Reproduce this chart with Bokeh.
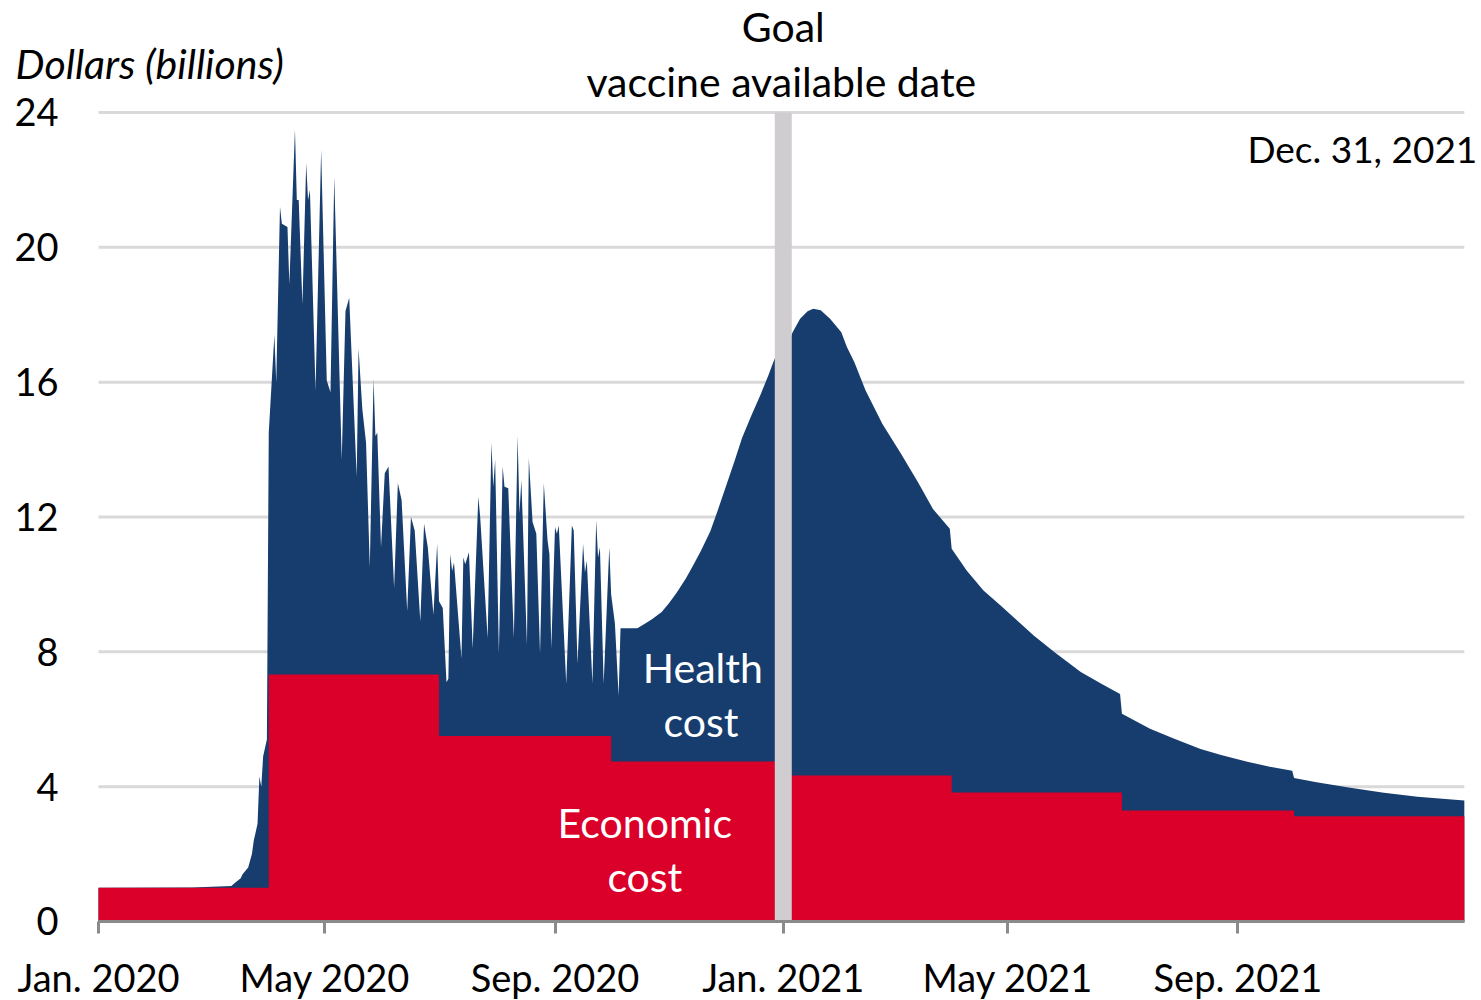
import numpy as np
import pandas as pd
from bokeh.plotting import figure
from bokeh.models import Range1d, FixedTicker, Label
from bokeh.core.properties import value
from bokeh.embed import file_html
from bokeh.resources import INLINE

# ---------------- data ----------------
# Total daily cost (economic + health), billions of dollars
dates = [
    "2020-01-01", "2020-02-20", "2020-03-12", "2020-03-14", "2020-03-17", "2020-03-18",
    "2020-03-21", "2020-03-23", "2020-03-24",
    "2020-03-26", "2020-03-27", "2020-03-28", "2020-03-29", "2020-03-31", "2020-04-01",
    "2020-04-04", "2020-04-05", "2020-04-07", "2020-04-08", "2020-04-11", "2020-04-12",
    "2020-04-15", "2020-04-16", "2020-04-17", "2020-04-19", "2020-04-21", "2020-04-22",
    "2020-04-23", "2020-04-26", "2020-04-29", "2020-05-02", "2020-05-04", "2020-05-06",
    "2020-05-10", "2020-05-12", "2020-05-14", "2020-05-18", "2020-05-19", "2020-05-21",
    "2020-05-23", "2020-05-25", "2020-05-27", "2020-05-28", "2020-05-29", "2020-05-31",
    "2020-06-02", "2020-06-04", "2020-06-07", "2020-06-09", "2020-06-11", "2020-06-14",
    "2020-06-16", "2020-06-18", "2020-06-21", "2020-06-23", "2020-06-25", "2020-06-28",
    "2020-06-30", "2020-07-01", "2020-07-03", "2020-07-05", "2020-07-06", "2020-07-07",
    "2020-07-08", "2020-07-09", "2020-07-13", "2020-07-14", "2020-07-15", "2020-07-17",
    "2020-07-19", "2020-07-22", "2020-07-23", "2020-07-27", "2020-07-29", "2020-07-30",
    "2020-07-31", "2020-08-02", "2020-08-04", "2020-08-05", "2020-08-07", "2020-08-10",
    "2020-08-12", "2020-08-13", "2020-08-14", "2020-08-17", "2020-08-18", "2020-08-20",
    "2020-08-22", "2020-08-24", "2020-08-26", "2020-08-28", "2020-08-29", "2020-08-30",
    "2020-09-01", "2020-09-02", "2020-09-03", "2020-09-07", "2020-09-10", "2020-09-11",
    "2020-09-13", "2020-09-16", "2020-09-17", "2020-09-18", "2020-09-21", "2020-09-23",
    "2020-09-24", "2020-09-25", "2020-09-27", "2020-09-30", "2020-10-01", "2020-10-03",
    "2020-10-05", "2020-10-06", "2020-10-15", "2020-10-19", "2020-10-23", "2020-10-28",
    "2020-11-01", "2020-11-05", "2020-11-10", "2020-11-14", "2020-11-18", "2020-11-23",
    "2020-11-27", "2020-12-01", "2020-12-06", "2020-12-10", "2020-12-15", "2020-12-20",
    "2020-12-24", "2020-12-27", "2020-12-31", "2021-01-01", "2021-01-06", "2021-01-10",
    "2021-01-14", "2021-01-17", "2021-01-21", "2021-01-26", "2021-02-01", "2021-02-04",
    "2021-02-08", "2021-02-14", "2021-02-23", "2021-03-05", "2021-03-14", "2021-03-22",
    "2021-03-31", "2021-04-01", "2021-04-09", "2021-04-18", "2021-04-27", "2021-05-06",
    "2021-05-15", "2021-05-26", "2021-06-09", "2021-06-20", "2021-06-30", "2021-07-01",
    "2021-07-16", "2021-07-29", "2021-08-12", "2021-08-23", "2021-09-06", "2021-09-18",
    "2021-09-30", "2021-10-01", "2021-10-13", "2021-10-31", "2021-11-18", "2021-12-06",
    "2021-12-31",
]
total_cost = [
    1.0, 1.01, 1.05, 1.15, 1.28, 1.4,
    1.6, 2.0, 2.4,
    2.9, 4.3, 4.0, 4.9, 5.4, 14.5,
    17.4, 16.0, 21.2, 20.7, 20.6, 18.9,
    23.5, 21.4, 21.4, 18.3, 22.5, 21.4,
    21.7, 15.75, 22.9, 16.05, 15.7, 22.1,
    13.7, 18.1, 18.5, 13.2, 17.0, 15.2,
    14.2, 10.5, 16.1, 14.4, 14.5, 11.1,
    13.3, 13.5, 9.9, 13.0, 12.5, 9.2,
    12.0, 11.6, 8.9, 11.8, 11.1, 9.1,
    11.2, 9.5, 9.3, 7.1, 7.2, 10.9,
    10.4, 10.65, 7.8, 10.8, 10.6, 10.95,
    8.1, 12.6, 12.0, 8.4, 14.2, 12.9,
    13.7, 7.95, 13.5, 12.9, 12.85, 8.4,
    14.4, 12.1, 13.1, 8.2, 13.75, 11.85,
    11.5, 7.95, 13.0, 11.3, 10.9, 8.1,
    11.7, 11.5, 11.75, 7.05, 11.75, 11.6,
    7.65, 11.2, 10.35, 10.7, 7.05, 11.9,
    10.8, 11.1, 7.05, 11.1, 9.7, 8.85,
    6.7, 8.7, 8.7, 8.83, 8.97, 9.18,
    9.45, 9.75, 10.18, 10.58, 11.0, 11.58,
    12.2, 12.85, 13.67, 14.35, 15.02, 15.65,
    16.2, 16.64, 17.15, 16.8, 17.48, 17.88,
    18.1, 18.18, 18.13, 17.88, 17.48, 17.04,
    16.59, 15.75, 14.76, 13.87, 13.03, 12.24,
    11.65, 11.06, 10.41, 9.82, 9.38, 8.93,
    8.48, 7.99, 7.40, 7.05, 6.75, 6.16,
    5.72, 5.42, 5.12, 4.94, 4.74, 4.59,
    4.47, 4.26, 4.13, 3.97, 3.82, 3.70,
    3.59,
]
# Economic cost: one level per quarter
quarter_starts = ["2020-01-01", "2020-04-01", "2020-07-01", "2020-10-01",
                  "2021-01-01", "2021-04-01", "2021-07-01", "2021-10-01"]
economic_cost = [1.0, 7.33, 5.5, 4.75, 4.33, 3.83, 3.29, 3.12]
series_end = "2021-12-31"
goal_date = "2021-01-01"

tick_dates = ["2020-01-01", "2020-05-01", "2020-09-01", "2021-01-01", "2021-05-01", "2021-09-01"]
tick_labels = ["Jan. 2020", "May 2020", "Sep. 2020", "Jan. 2021", "May 2021", "Sep. 2021"]
y_ticks = [0, 4, 8, 12, 16, 20, 24]

# ---------------- build ----------------
DAY = 86400000

def ms(d):
    return int(pd.Timestamp(d).value // 10**6)

FONT = "Lato"
BLUE = "#163d6e"
RED = "#db0029"
GRID = "#d9d9d9"
AXIS = "#8a8a8a"

x_total = pd.to_datetime(dates)

bounds = quarter_starts + [series_end]
econ_x, econ_y = [], []
for i, v in enumerate(economic_cost):
    econ_x += [bounds[i], bounds[i + 1]]
    econ_y += [v, v]
econ_x = pd.to_datetime(econ_x)

t0 = ms(dates[0])
t1 = ms(series_end)

# the frame covers the whole canvas so that the header texts are not clipped;
# the x axis is pinned at y = 0 inside it
p = figure(width=1481, height=1000, x_axis_type="datetime", y_axis_location=None,
           output_backend="svg", toolbar_location=None,
           x_range=Range1d(t0 - 52.38 * DAY, t0 + 739.18 * DAY),
           y_range=Range1d(-2.3435, 27.321),
           min_border_left=0, min_border_right=0,
           min_border_top=0, min_border_bottom=0)
p.outline_line_color = None
p.background_fill_color = "white"
p.border_fill_color = "white"
p.xgrid.visible = False
p.ygrid.visible = False

# horizontal grid lines at the y ticks, over the data span only
p.segment(x0=[t0] * len(y_ticks), x1=[t1] * len(y_ticks), y0=y_ticks, y1=y_ticks,
          line_color=GRID, line_width=3)

p.varea(x=x_total, y1=0, y2=total_cost, fill_color=BLUE, fill_alpha=1.0)
p.varea(x=econ_x, y1=0, y2=econ_y, fill_color=RED, fill_alpha=1.0)

# goal vaccine date bar
p.segment(x0=[ms(goal_date)], x1=[ms(goal_date)], y0=[0], y1=[y_ticks[-1]],
          line_color="#cfcdd0", line_width=17, line_cap="butt")

# y tick labels
p.text(x=[t0] * len(y_ticks), y=y_ticks, text=[str(v) for v in y_ticks],
       text_align="right", text_baseline="middle", x_offset=-40,
       text_font=value(FONT), text_font_size="38px", text_color="black")

# x axis
ax = p.xaxis[0]
ax.fixed_location = 0
ax.bounds = (t0, t1)
ax.ticker = FixedTicker(ticks=[ms(d) for d in tick_dates])
ax.major_label_overrides = {ms(d): lab for d, lab in zip(tick_dates, tick_labels)}
ax.axis_line_color = AXIS
ax.axis_line_width = 3
ax.major_tick_line_color = AXIS
ax.major_tick_line_width = 3
ax.major_tick_in = 0
ax.major_tick_out = 12
ax.minor_tick_line_color = None
ax.major_label_text_font = FONT
ax.major_label_text_font_size = "38px"
ax.major_label_text_color = "black"
ax.major_label_standoff = 21

def add_label(x, y, text, color="black", align="center", style="normal",
              x_offset=0, size="41px"):
    p.add_layout(Label(x=x, y=y, text=text, text_color=color, text_align=align,
                       text_baseline="middle", text_font=FONT, text_font_size=size,
                       text_font_style=style, x_offset=x_offset))

add_label(ms(goal_date), 26.55, "Goal")
add_label(ms(goal_date), 24.93, "vaccine available date", x_offset=-2)
add_label(t1, 22.92, "Dec. 31, 2021", align="right", x_offset=13, size="37px")
add_label(t0, 25.45, "Dollars (billions)", align="left", style="italic", x_offset=-83)
add_label(ms("2020-11-19"), 7.53, "Health", color="white")
add_label(ms("2020-11-18"), 5.93, "cost", color="white")
add_label(ms("2020-10-19"), 2.94, "Economic", color="white")
add_label(ms("2020-10-19"), 1.33, "cost", color="white")

open("out.html", "w").write(file_html(p, INLINE))
